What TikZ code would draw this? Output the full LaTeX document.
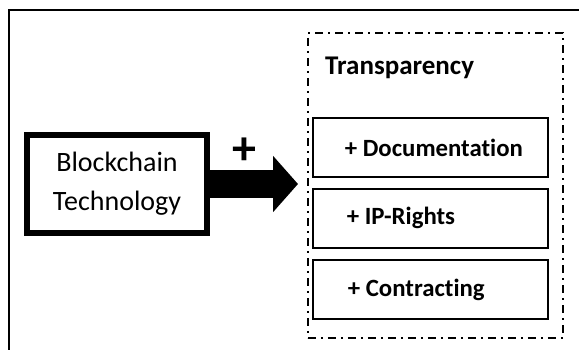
\documentclass[tikz,border=0pt]{standalone}
\usepackage{fontspec}
\setmainfont[Ligatures=NoCommon]{Carlito}
\usetikzlibrary{arrows.meta}

\tikzset{
  techbox/.style={draw, line width=6pt, minimum width=180pt, minimum height=98pt, align=center,
    font=\fontsize{28}{39}\selectfont},
  itembox/.style={draw, line width=2pt, minimum width=235.6pt, minimum height=59pt},
  itemtext/.style={anchor=west, inner sep=0pt, font=\fontsize{24.8}{28}\selectfont\bfseries},
  dashdot/.style={draw, line width=2pt, dash pattern=on 8pt off 5pt on 2pt off 5pt}
}

\begin{document}
\begin{tikzpicture}[x=1pt,y=-1pt]
\clip (0,0) rectangle (579,350);
\draw[line width=2pt] (9,360) -- (9,10) -- (590,10);

\node[techbox] (bc) at (117,184) {Blockchain\\Technology};
\coordinate (tip) at (298,184);
\draw[line width=28pt, -{Triangle[length=25pt,width=55pt]}] (bc.east) -- (tip);
\node[font=\fontsize{48}{48}\selectfont\bfseries] (plus) at (244,151) {+};

\node[dashdot, minimum width=255pt, minimum height=305pt] (trans) at (435.3,185.3) {};
\node[anchor=west, inner sep=0pt, font=\fontsize{27}{30}\selectfont\bfseries] (title) at (325,68) {Transparency};

\node[itembox] (doc) at (430.5,147.5) {};
\node[itembox] (ip) at (430.5,218.3) {};
\node[itembox] (con) at (430.5,289.7) {};
\node[itemtext] at ([xshift=33pt]doc.west) {+ Documentation};
\node[itemtext] at ([xshift=35pt]ip.west) {+ IP-Rights};
\node[itemtext] at ([xshift=36pt]con.west) {+ Contracting};
\end{tikzpicture}
\end{document}
